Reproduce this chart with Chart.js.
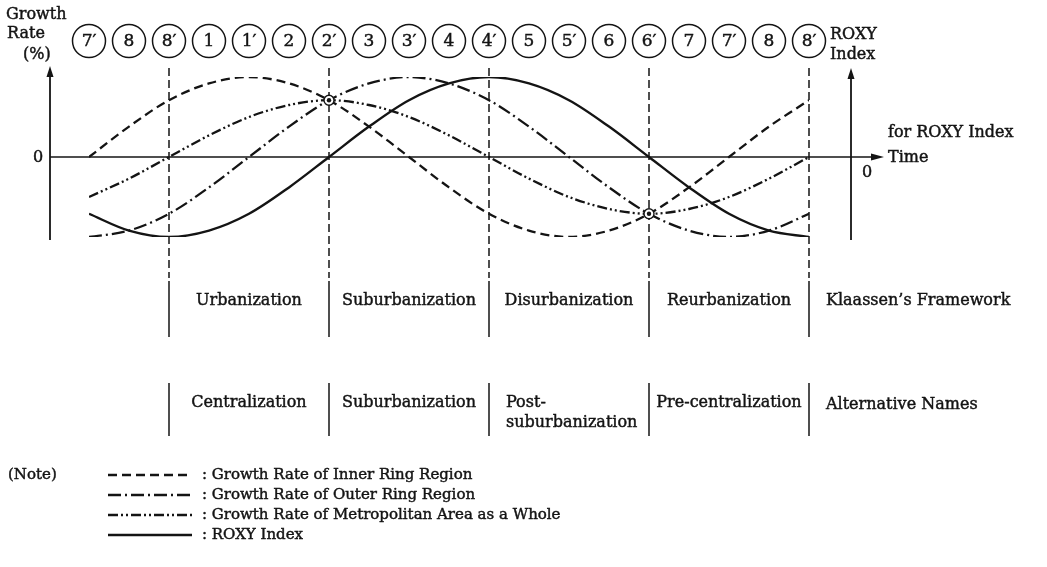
<!DOCTYPE html>
<html>
<head>
<meta charset="utf-8">
<script src="https://cdn.jsdelivr.net/npm/chart.js@4.4.1/dist/chart.umd.min.js"></script>
<style>
html,body{margin:0;padding:0;background:#fff;}
#wrap{width:1047px;height:567px;position:relative;}
</style>
</head>
<body>
<div id="wrap"><canvas id="chart" width="1047" height="567"></canvas></div>
<script>
// ===================== DATA =====================
// phase numbers along the top (one per time step)
const phaseLabels=["7′","8","8′","1","1′","2","2′","3","3′","4","4′","5","5′","6","6′","7","7′","8","8′"];
// growth rates (relative units, peak = 100)
const innerRing=[0,38,71,92,100,92,71,38,0,-38,-71,-92,-100,-92,-71,-38,0,38,71];
const outerRing=[-100,-92,-71,-38,0,38,71,92,100,92,71,38,0,-38,-71,-92,-100,-92,-71];
const metroArea=[-50,-27,0,27,50,65,71,65,50,27,0,-27,-50,-65,-71,-65,-50,-27,0];
const roxyIndex=[-71,-92,-100,-92,-71,-38,0,38,71,92,100,92,71,38,0,-38,-71,-92,-100];
// stage boundaries (index into phaseLabels) and stage names
const stageBounds=[2,6,10,14,18];
const klaassenNames=["Urbanization","Suburbanization","Disurbanization","Reurbanization"];
const altNames=["Centralization","Suburbanization",["Post-","suburbanization"],"Pre-centralization"];
// marked crossing points (index, value)
const crossings=[[6,71],[14,-71]];

const INK='#141414';
const SERIF='"DejaVu Serif", "Liberation Serif", serif';

const series=[
  {label:'Growth Rate of Inner Ring Region',data:innerRing,dash:[9,5],width:2.3},
  {label:'Growth Rate of Outer Ring Region',data:outerRing,dash:[13,4,2,4],width:2.3},
  {label:'Growth Rate of Metropolitan Area as a Whole',data:metroArea,dash:[10,3,2,3,2,3],width:2.3},
  {label:'ROXY Index',data:roxyIndex,dash:[],width:2.4},
];

function arrowHead(ctx,x,y,dir){
  ctx.beginPath();
  if(dir==='up'){ctx.moveTo(x,y);ctx.lineTo(x-3.5,y+11);ctx.lineTo(x+3.5,y+11);}
  else{ctx.moveTo(x,y);ctx.lineTo(x-13,y-3.5);ctx.lineTo(x-13,y+3.5);}
  ctx.closePath();ctx.fill();
}

// text with a hairline stroke, the scan's type is a bit heavier than DejaVu
function inkText(ctx,t,x,y){
  ctx.fillText(t,x,y);
  ctx.save();ctx.lineWidth=0.45;ctx.setLineDash([]);ctx.strokeText(t,x,y);ctx.restore();
}

const figurePlugin={
  id:'figure',
  afterDraw(chart){
    const ctx=chart.ctx, xs=chart.scales.x, ys=chart.scales.y;
    const y0=ys.getPixelForValue(0);
    ctx.save();
    ctx.strokeStyle=INK;ctx.fillStyle=INK;

    // axes
    ctx.lineWidth=1.8;ctx.setLineDash([]);
    ctx.beginPath();ctx.moveTo(50,240);ctx.lineTo(50,72);ctx.stroke();
    arrowHead(ctx,50,66,'up');
    ctx.beginPath();ctx.moveTo(851,240);ctx.lineTo(851,74);ctx.stroke();
    arrowHead(ctx,851,68,'up');
    ctx.lineWidth=1.4;
    ctx.beginPath();ctx.moveTo(50,y0);ctx.lineTo(872,y0);ctx.stroke();
    arrowHead(ctx,884,y0,'right');

    // phase circles
    ctx.lineWidth=1.5;
    ctx.font='17px '+SERIF;ctx.textAlign='center';ctx.textBaseline='middle';
    phaseLabels.forEach((lab,i)=>{
      const x=xs.getPixelForValue(i);
      ctx.beginPath();ctx.arc(x,41,16.5,0,Math.PI*2);ctx.stroke();
      inkText(ctx,lab,x,42);
    });

    // stage boundaries
    stageBounds.forEach(b=>{
      const x=xs.getPixelForValue(b);
      ctx.lineWidth=1.5;
      ctx.setLineDash([8,4]);
      ctx.beginPath();ctx.moveTo(x,68);ctx.lineTo(x,278);ctx.stroke();
      ctx.setLineDash([]);
      ctx.beginPath();ctx.moveTo(x,281);ctx.lineTo(x,337);ctx.stroke();
      ctx.beginPath();ctx.moveTo(x,383);ctx.lineTo(x,436);ctx.stroke();
    });

    // crossing markers
    crossings.forEach(([i,v])=>{
      const x=xs.getPixelForValue(i), y=ys.getPixelForValue(v);
      ctx.fillStyle='#fff';ctx.lineWidth=1.4;
      ctx.beginPath();ctx.arc(x,y,5,0,Math.PI*2);ctx.fill();ctx.stroke();
      ctx.fillStyle=INK;
      ctx.beginPath();ctx.arc(x,y,2.2,0,Math.PI*2);ctx.fill();
    });

    // stage names
    ctx.font='16px '+SERIF;ctx.textAlign='center';ctx.textBaseline='middle';
    klaassenNames.forEach((n,k)=>{
      const x=(xs.getPixelForValue(stageBounds[k])+xs.getPixelForValue(stageBounds[k+1]))/2;
      inkText(ctx,n,x,301);
    });
    altNames.forEach((n,k)=>{
      const xa=xs.getPixelForValue(stageBounds[k]), xb=xs.getPixelForValue(stageBounds[k+1]);
      if(Array.isArray(n)){
        ctx.textAlign='left';
        inkText(ctx,n[0],xa+17,403);inkText(ctx,n[1],xa+17,423);
        ctx.textAlign='center';
      }else inkText(ctx,n,(xa+xb)/2,403);
    });
    ctx.textAlign='left';
    inkText(ctx,'Klaassen’s Framework',826,301);
    inkText(ctx,'Alternative Names',826,405);

    // axis titles
    inkText(ctx,'Growth',6,15);
    inkText(ctx,'Rate',7,34);
    inkText(ctx,'(%)',23,55);
    inkText(ctx,'0',33,158);
    inkText(ctx,'ROXY',830,35);
    inkText(ctx,'Index',830,55);
    inkText(ctx,'for ROXY Index',888,133);
    inkText(ctx,'Time',888,158);
    inkText(ctx,'0',862,173);

    // note / legend
    ctx.font='15px '+SERIF;
    inkText(ctx,'(Note)',8,475);
    series.forEach((s,k)=>{
      const y=475+k*20;
      ctx.lineWidth=s.width;ctx.setLineDash(s.dash);
      ctx.beginPath();ctx.moveTo(108,y);ctx.lineTo(192,y);ctx.stroke();
      ctx.setLineDash([]);
      inkText(ctx,': '+s.label,202,y);
    });
    ctx.restore();
  }
};

new Chart(document.getElementById('chart').getContext('2d'),{
  type:'line',
  data:{
    labels:phaseLabels,
    datasets:series.map(s=>({
      label:s.label,
      data:s.data.map((v,i)=>({x:i,y:v})),
      borderColor:INK,borderWidth:s.width,borderDash:s.dash,
      pointRadius:0,tension:0.33,fill:false,
    })),
  },
  options:{
    responsive:false,animation:false,devicePixelRatio:1,
    layout:{padding:{left:89,right:238,top:77,bottom:330}},
    plugins:{legend:{display:false},tooltip:{enabled:false}},
    scales:{
      x:{type:'linear',min:0,max:18,display:false},
      y:{min:-100,max:100,display:false},
    },
  },
  plugins:[figurePlugin],
});
</script>
</body>
</html>
